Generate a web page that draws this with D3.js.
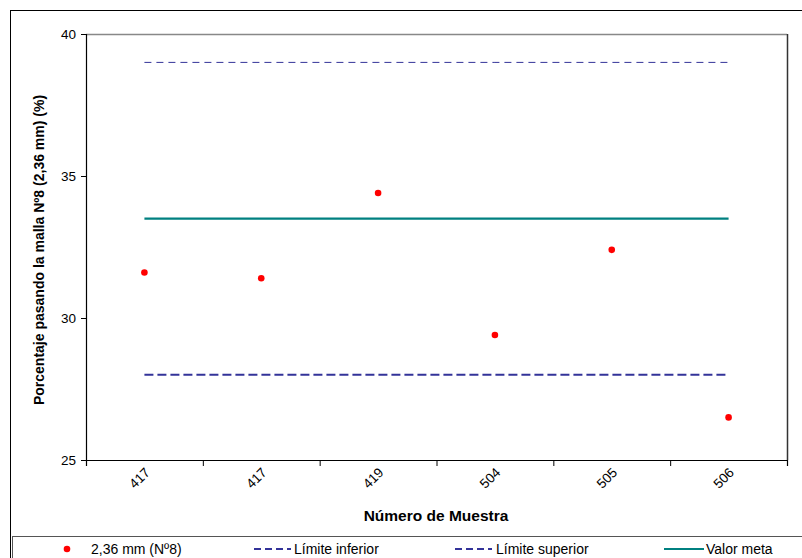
<!DOCTYPE html>
<html><head><meta charset="utf-8">
<script src="https://cdn.jsdelivr.net/npm/d3@7"></script>
<style>
body{margin:0;background:#fff;}
svg{display:block;font-family:"Liberation Sans",Arial,sans-serif;}
</style></head>
<body>
<svg id="c" width="802" height="558"></svg>
<script>
const categories = ["417","417","419","504","505","506"];
const muestraValues = [31.6, 31.4, 34.4, 29.4, 32.4, 26.5];
const limiteInferior = [28, 28, 28, 28, 28, 28];
const limiteSuperior = [39, 39, 39, 39, 39, 39];
const valorMeta = [33.5, 33.5, 33.5, 33.5, 33.5, 33.5];
const yTicks = [25, 30, 35, 40];
const legendLabels = ["2,36 mm (Nº8)", "Límite inferior", "Límite superior", "Valor meta"];

const svg = d3.select("#c");
const L = 86, R = 787, T = 34, B = 460;

// outer chart border
svg.append("rect").attr("x",10.5).attr("y",10.5).attr("width",820).attr("height",600)
  .attr("fill","#fff").attr("stroke","#000").attr("stroke-width",1);

const idx = categories.map((d,i)=>i);
const x = d3.scaleBand().domain(idx).range([L,R]).padding(0);
const cx = i => x(i) + x.bandwidth()/2;
const y = d3.scaleLinear().domain([25,40]).range([B,T]);

// plot area border
svg.append("line").attr("x1",L).attr("x2",R).attr("y1",T+0.5).attr("y2",T+0.5).attr("stroke","#888").attr("stroke-width",1.5);
svg.append("line").attr("x1",R+0.5).attr("x2",R+0.5).attr("y1",T).attr("y2",B).attr("stroke","#333").attr("stroke-width",1.5);

// y axis
const yAxis = d3.axisLeft(y).tickValues(yTicks).tickSize(5).tickPadding(5);
const gy = svg.append("g").attr("transform",`translate(${L},0)`).call(yAxis);
gy.select(".domain").attr("stroke","#000").attr("stroke-width",1.2);
gy.selectAll(".tick line").attr("stroke","#000");
gy.selectAll("text").attr("font-size",13.5).attr("fill","#000").attr("font-family","Liberation Sans, Arial, sans-serif");

// x axis (ticks at band boundaries)
const xb = d3.scaleLinear().domain([0,categories.length]).range([L,R]);
const gx = svg.append("g").attr("transform",`translate(0,${B})`)
  .call(d3.axisBottom(xb).tickValues(d3.range(0,categories.length+1)).tickSize(6).tickFormat(""));
gx.select(".domain").attr("stroke","#000").attr("stroke-width",1.2);
gx.selectAll(".tick line").attr("stroke","#000");

svg.append("g").selectAll("text").data(categories).join("text")
  .attr("transform",(d,i)=>`translate(${cx(i)+3},${B+10}) rotate(-45)`)
  .attr("text-anchor","end").attr("dy","0.35em")
  .attr("font-size",13.5).text(d=>d);

// axis titles
svg.append("text").attr("x",436).attr("y",521).attr("text-anchor","middle")
  .attr("font-weight","bold").attr("font-size",15.5).text("Número de Muestra");
svg.append("text").attr("transform",`translate(44,${(T+B)/2+3}) rotate(-90)`).attr("text-anchor","middle")
  .attr("font-weight","bold").attr("font-size",14).text("Porcentaje pasando la malla Nº8 (2,36 mm) (%)");

const line = d3.line().x((d,i)=>cx(i)).y(d=>y(d));
svg.append("path").datum(limiteSuperior).attr("d",line).attr("fill","none")
  .attr("stroke","#333399").attr("stroke-width",1).attr("stroke-dasharray","7,5");
svg.append("path").datum(limiteInferior).attr("d",line).attr("fill","none")
  .attr("stroke","#333399").attr("stroke-width",2).attr("stroke-dasharray","9,4");
svg.append("path").datum(valorMeta).attr("d",line).attr("fill","none")
  .attr("stroke","#008080").attr("stroke-width",2.2);

svg.append("g").selectAll("circle").data(muestraValues).join("circle")
  .attr("cx",(d,i)=>cx(i)).attr("cy",d=>y(d)).attr("r",3.3).attr("fill","#ff0000");

// legend
svg.append("rect").attr("x",12.5).attr("y",536.5).attr("width",820).attr("height",60)
  .attr("fill","#fff").attr("stroke","#555").attr("stroke-width",1);
const ly = 549;
const lg = svg.append("g");
lg.append("circle").attr("cx",67).attr("cy",ly).attr("r",3.3).attr("fill","#ff0000");
lg.append("text").attr("x",91).attr("y",ly+5).attr("font-size",14).text(legendLabels[0]);
lg.append("line").attr("x1",254).attr("x2",291).attr("y1",ly).attr("y2",ly).attr("stroke","#333399").attr("stroke-width",2).attr("stroke-dasharray","7,4");
lg.append("text").attr("x",294).attr("y",ly+5).attr("font-size",14).text(legendLabels[1]);
lg.append("line").attr("x1",455).attr("x2",492).attr("y1",ly).attr("y2",ly).attr("stroke","#333399").attr("stroke-width",2).attr("stroke-dasharray","7,4");
lg.append("text").attr("x",496).attr("y",ly+5).attr("font-size",14).text(legendLabels[2]);
lg.append("line").attr("x1",664).attr("x2",704).attr("y1",ly).attr("y2",ly).attr("stroke","#008080").attr("stroke-width",2.2);
lg.append("text").attr("x",706).attr("y",ly+5).attr("font-size",14).text(legendLabels[3]);
</script>
</body></html>
